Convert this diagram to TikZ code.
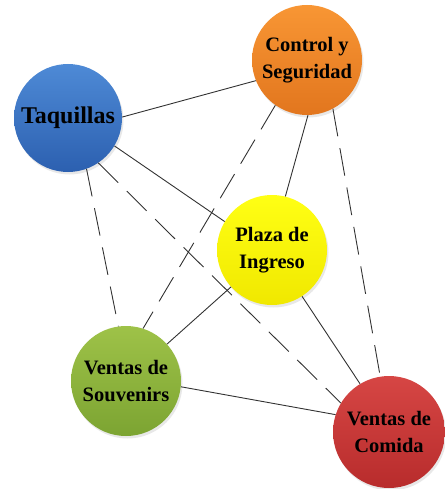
\documentclass[tikz,border=0pt]{standalone}
\usepackage{fontspec}
\setmainfont{Liberation Serif}
\usetikzlibrary{shadows}
\definecolor{bluetop}{RGB}{78,138,214}
\definecolor{bluebot}{RGB}{44,96,176}
\definecolor{orangetop}{RGB}{248,150,52}
\definecolor{orangebot}{RGB}{226,118,30}
\definecolor{yellowtop}{RGB}{255,255,20}
\definecolor{yellowbot}{RGB}{240,232,0}
\definecolor{greentop}{RGB}{158,194,72}
\definecolor{greenbot}{RGB}{124,164,50}
\definecolor{redtop}{RGB}{214,70,68}
\definecolor{redbot}{RGB}{184,44,44}
\definecolor{linegray}{RGB}{50,50,50}
\tikzset{
  bubble/.style={circle, inner sep=0pt, align=center,
    font=\bfseries\fontsize{20.5}{27}\selectfont,
    drop shadow={opacity=0.18, shadow xshift=1.5pt, shadow yshift=-2.5pt}},
  solidlink/.style={draw=linegray, line width=0.9pt},
  dashlink/.style={draw=linegray, line width=0.9pt, dash pattern=on 28pt off 12pt}
}
\begin{document}
\begin{tikzpicture}[x=1pt, y=-1pt]
\useasboundingbox (0,0) rectangle (444,489);
\node[bubble, minimum size=108pt, top color=bluetop, bottom color=bluebot,
  font=\bfseries\fontsize{24}{28}\selectfont] (taq) at (68,118) {Taquillas};
\node[bubble, minimum size=110pt, top color=orangetop, bottom color=orangebot] (ctl) at (307,60) {Control y\\Seguridad};
\node[bubble, minimum size=110pt, top color=yellowtop, bottom color=yellowbot] (pla) at (272,250) {Plaza de\\Ingreso};
\node[bubble, minimum size=110pt, top color=greentop, bottom color=greenbot] (sou) at (126,381) {Ventas de\\Souvenirs};
\node[bubble, minimum size=112pt, top color=redtop, bottom color=redbot] (com) at (389,432) {Ventas de\\Comida};

\draw[solidlink] (taq.1) -- (ctl.202);
\draw[solidlink] (taq.-31) -- (pla.149);
\draw[solidlink] (ctl.-89) -- (pla.76);
\draw[solidlink] (pla.-138) -- (sou.42);
\draw[solidlink] (pla.-57) -- (com.121);
\draw[solidlink] (sou.-6) -- (com.162);

\draw[dashlink] (taq.-70) -- (sou.98);
\draw[dashlink] (taq.-56) -- (com.149);
\draw[dashlink] (ctl.-125) -- (sou.72);
\draw[dashlink] (ctl.-62) -- (com.99);
\end{tikzpicture}
\end{document}
